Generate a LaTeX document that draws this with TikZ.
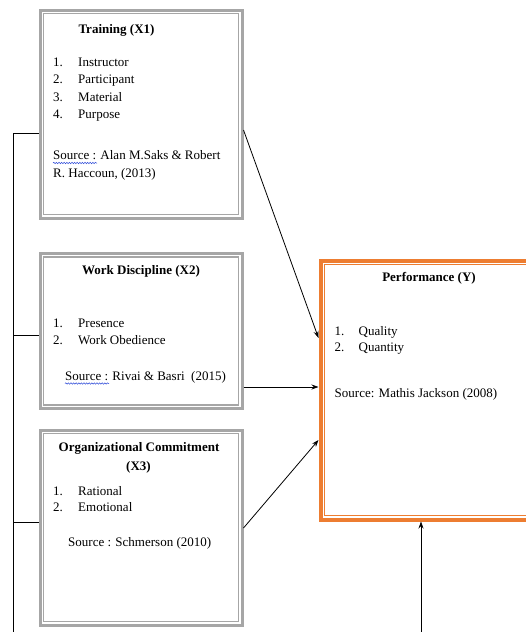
\documentclass[tikz,border=0pt]{standalone}
\usepackage{fontspec}
\setmainfont{Liberation Serif}
\usetikzlibrary{arrows.meta,decorations.pathmorphing}
\definecolor{boxgray}{HTML}{A6A6A6}
\definecolor{perforange}{HTML}{ED7D31}
\definecolor{spellblue}{HTML}{2E4BD8}

\begin{document}
\begin{tikzpicture}[x=1pt,y=-1pt,
  txt/.style={inner sep=0pt, anchor=base west, font=\fontsize{13}{15}\selectfont},
  ttl/.style={inner sep=0pt, anchor=base, font=\fontsize{13}{15}\selectfont\bfseries},
  greybox/.style={draw=boxgray, line width=3pt, inner sep=0pt},
  greyinner/.style={draw=boxgray, line width=1.1pt},
  orangebox/.style={draw=perforange, line width=4pt, inner sep=0pt},
  orangeinner/.style={draw=perforange, line width=1.1pt},
  link/.style={draw=black, line width=0.8pt},
  arr/.style={link, -{Stealth[length=7pt,width=5pt]}},
  spell/.style={draw=spellblue, line width=0.5pt, decorate,
    decoration={snake, amplitude=0.7pt, segment length=2.6pt}}
]
\useasboundingbox (0,0) rectangle (526,632);
\clip (0,0) rectangle (526,632);

% frames
\node[greybox, minimum width=202pt, minimum height=208pt] (x1) at (141,114.2) {};
\node[greybox, minimum width=202pt, minimum height=155pt] (x2) at (141,331) {};
\node[greybox, minimum width=202pt, minimum height=195pt] (x3) at (141,527.5) {};
\node[orangebox, minimum width=220pt, minimum height=259pt] (y) at (430.5,390) {};

\foreach \b in {x1,x2,x3}
  \draw[greyinner] ([shift={(5,5)}]\b.north west) rectangle ([shift={(-5,-5)}]\b.south east);
\draw[orangeinner] ([shift={(6,6)}]y.north west) rectangle ([shift={(-6,-6)}]y.south east);

% Training (X1)
\node[ttl] (x1t) at (116.5,33) {Training (X1)};
\node[txt] (x1a) at (53,66) {\makebox[25pt][l]{1.}Instructor};
\node[txt] (x1b) at (53,83.5) {\makebox[25pt][l]{2.}Participant};
\node[txt] (x1c) at (53,101) {\makebox[25pt][l]{3.}Material};
\node[txt] (x1d) at (53,118.5) {\makebox[25pt][l]{4.}Purpose};
\node[txt] (x1s) at (53,159.5) {Source : Alan M.Saks \& Robert};
\node[txt] (x1r) at (53,177.5) {R. Haccoun, (2013)};
\draw[spell] ([yshift=-3.5pt]x1s.base west) -- ++(44,0);

% Work Discipline (X2)
\node[ttl] (x2t) at (141,274) {Work Discipline (X2)};
\node[txt] (x2a) at (53,327) {\makebox[25pt][l]{1.}Presence};
\node[txt] (x2b) at (53,344) {\makebox[25pt][l]{2.}Work Obedience};
\node[txt] (x2s) at (65,380) {Source : Rivai \& Basri~~(2015)};
\draw[spell] ([yshift=-3.5pt]x2s.base west) -- ++(44,0);

% Organizational Commitment (X3)
\node[ttl] (x3t) at (139,451) {Organizational Commitment};
\node[ttl] (x3u) at (138.5,470) {(X3)};
\node[txt] (x3a) at (53,495) {\makebox[25pt][l]{1.}Rational};
\node[txt] (x3b) at (53,511.5) {\makebox[25pt][l]{2.}Emotional};
\node[txt] (x3s) at (68,546.5) {Source : Schmerson (2010)};

% Performance (Y)
\node[ttl] (yt) at (429,281.5) {Performance (Y)};
\node[txt] (ya) at (334.5,335) {\makebox[24pt][l]{1.}Quality};
\node[txt] (yb) at (334.5,351.5) {\makebox[24pt][l]{2.}Quantity};
\node[txt] (ys) at (334.5,397) {Source: Mathis Jackson (2008)};

% left bracket joining the three variables
\coordinate (bb) at (13,640);
\draw[link] (bb) -- (13,133) -- (x1.west |- 0,133);
\draw[link] (13,335) -- (x2.west |- 0,335);
\draw[link] (13,522) -- (x3.west |- 0,522);

% paths into Performance
\draw[arr] (x1.east |- 0,130) -- (y.west |- 0,338);
\draw[arr] (x2.east |- 0,387) -- (y.west |- 0,387);
\draw[arr] (x3.east |- 0,528) -- (y.west |- 0,440);
\coordinate (yb0) at (421,640);
\draw[arr] (yb0) -- (yb0 |- y.south);
\end{tikzpicture}
\end{document}
